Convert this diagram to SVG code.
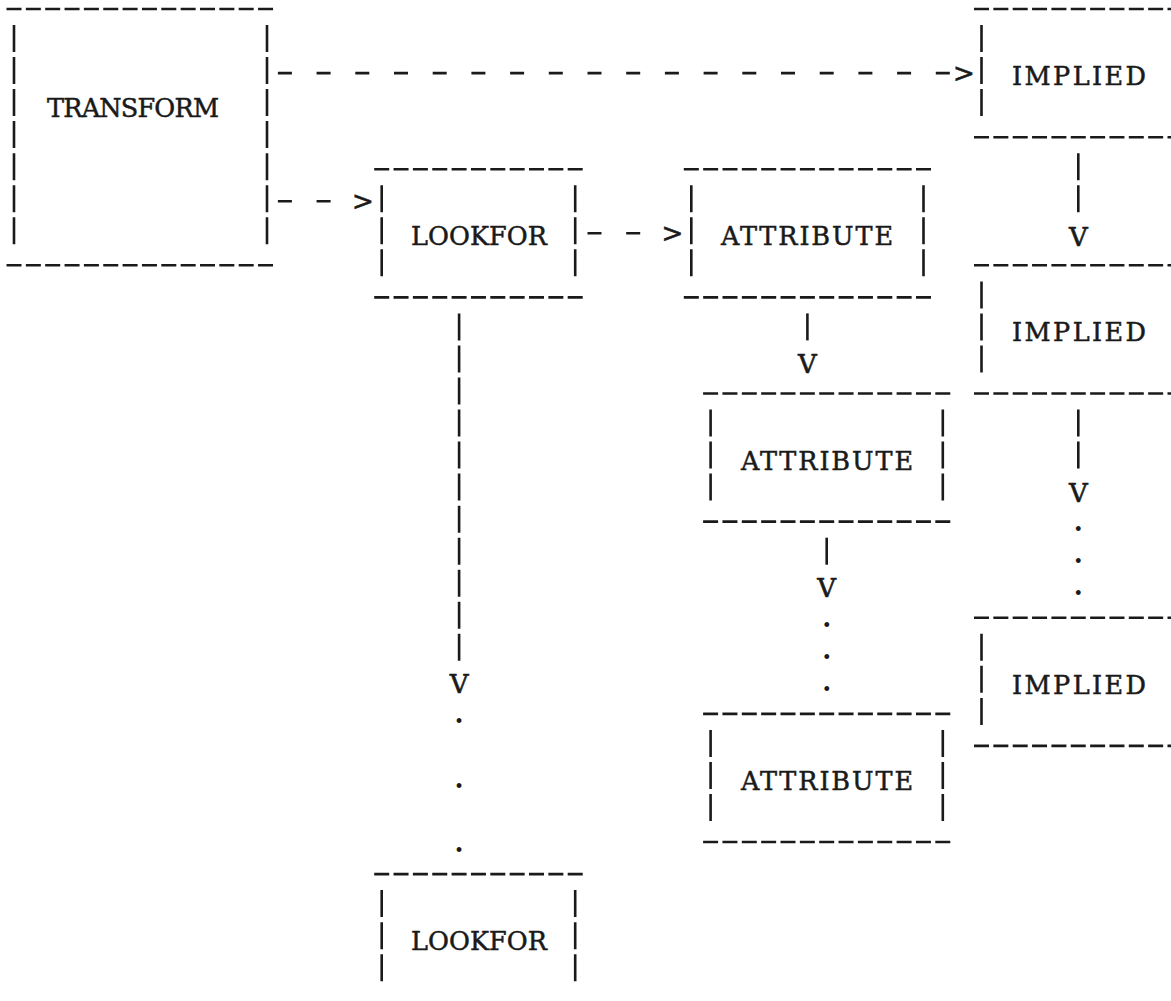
<svg xmlns="http://www.w3.org/2000/svg" width="1171" height="1001" viewBox="0 0 1171 1001">
<defs>
<style>
.bg{fill:#ffffff}
.h{stroke:#1a1a1a;stroke-width:2.6;stroke-dasharray:15 4.35;fill:none}
.v{stroke:#1a1a1a;stroke-width:2.6;stroke-dasharray:27 5.04;fill:none}
.a{stroke:#1a1a1a;stroke-width:2.6;stroke-dasharray:14 24.7;fill:none}
.t{font-family:"DejaVu Serif","Liberation Serif",serif;font-size:25.5px;fill:#1a1a1a;stroke:#1a1a1a;stroke-width:0.5}
.c{font-family:"DejaVu Serif","Liberation Serif",serif;font-size:26px;fill:#1a1a1a;stroke:#1a1a1a;stroke-width:0.6;text-anchor:middle}
.d{font-family:"DejaVu Serif","Liberation Serif",serif;font-size:26px;font-weight:bold;fill:#1a1a1a;text-anchor:middle}
</style>
</defs>
<rect class="bg" x="0" y="0" width="1171" height="1001"/>

<g id="transform">
<line class="h" x1="6.5" y1="9" x2="273.1" y2="9"/>
<line class="h" x1="6.5" y1="265.3" x2="273.1" y2="265.3"/>
<line class="v" x1="14" y1="25" x2="14" y2="244.3"/>
<line class="v" x1="267" y1="25" x2="267" y2="244.3"/>
<text class="t" x="47" y="117" textLength="172" lengthAdjust="spacing">TRANSFORM</text>
</g>

<g id="implied1">
<line class="h" x1="974" y1="9" x2="1180" y2="9"/>
<line class="h" x1="974" y1="137.2" x2="1180" y2="137.2"/>
<line class="v" x1="981.5" y1="25" x2="981.5" y2="116.1"/>
<text class="t" x="1012" y="85" textLength="134" lengthAdjust="spacing">IMPLIED</text>
</g>

<g id="implied2">
<line class="h" x1="974" y1="265.3" x2="1180" y2="265.3"/>
<line class="h" x1="974" y1="393.5" x2="1180" y2="393.5"/>
<line class="v" x1="981.5" y1="281.4" x2="981.5" y2="372.4"/>
<text class="t" x="1012" y="341.3" textLength="134" lengthAdjust="spacing">IMPLIED</text>
</g>

<g id="implied3">
<line class="h" x1="974" y1="617.8" x2="1180" y2="617.8"/>
<line class="h" x1="974" y1="745.9" x2="1180" y2="745.9"/>
<line class="v" x1="981.5" y1="633.8" x2="981.5" y2="724.9"/>
<text class="t" x="1012" y="693.7" textLength="134" lengthAdjust="spacing">IMPLIED</text>
</g>

<g id="lookfor1">
<line class="h" x1="374.2" y1="169.2" x2="582.7" y2="169.2"/>
<line class="h" x1="374.2" y1="297.4" x2="582.7" y2="297.4"/>
<line class="v" x1="381.7" y1="185.2" x2="381.7" y2="276.3"/>
<line class="v" x1="575.2" y1="185.2" x2="575.2" y2="276.3"/>
<text class="t" x="411" y="245.2" textLength="136" lengthAdjust="spacing">LOOKFOR</text>
</g>

<g id="lookfor2">
<line class="h" x1="374.2" y1="874.1" x2="582.7" y2="874.1"/>
<line class="v" x1="381.7" y1="890.1" x2="381.7" y2="981.2"/>
<line class="v" x1="575.2" y1="890.1" x2="575.2" y2="981.2"/>
<text class="t" x="411" y="950.1" textLength="136" lengthAdjust="spacing">LOOKFOR</text>
</g>

<g id="attribute1">
<line class="h" x1="683.8" y1="169.2" x2="931" y2="169.2"/>
<line class="h" x1="683.8" y1="297.4" x2="931" y2="297.4"/>
<line class="v" x1="691.3" y1="185.2" x2="691.3" y2="276.3"/>
<line class="v" x1="923.5" y1="185.2" x2="923.5" y2="276.3"/>
<text class="t" x="721" y="245.2" textLength="172" lengthAdjust="spacing">ATTRIBUTE</text>
</g>

<g id="attribute2">
<line class="h" x1="703.1" y1="393.5" x2="950.3" y2="393.5"/>
<line class="h" x1="703.1" y1="521.6" x2="950.3" y2="521.6"/>
<line class="v" x1="710.6" y1="409.5" x2="710.6" y2="500.6"/>
<line class="v" x1="942.8" y1="409.5" x2="942.8" y2="500.6"/>
<text class="t" x="741" y="469.5" textLength="172" lengthAdjust="spacing">ATTRIBUTE</text>
</g>

<g id="attribute3">
<line class="h" x1="703.1" y1="713.9" x2="950.3" y2="713.9"/>
<line class="h" x1="703.1" y1="842" x2="950.3" y2="842"/>
<line class="v" x1="710.6" y1="729.9" x2="710.6" y2="821"/>
<line class="v" x1="942.8" y1="729.9" x2="942.8" y2="821"/>
<text class="t" x="741" y="789.9" textLength="172" lengthAdjust="spacing">ATTRIBUTE</text>
</g>

<g id="connectors">
<!-- TRANSFORM to IMPLIED -->
<line class="a" x1="277.9" y1="73.1" x2="949.8" y2="73.1"/>
<text class="c" x="964" y="82">&gt;</text>
<!-- TRANSFORM to LOOKFOR -->
<line class="a" x1="277.9" y1="201.2" x2="330.6" y2="201.2"/>
<text class="c" x="363" y="210">&gt;</text>
<!-- LOOKFOR to ATTRIBUTE -->
<line class="a" x1="587.5" y1="233.3" x2="640.2" y2="233.3"/>
<text class="c" x="672.5" y="242">&gt;</text>
<!-- IMPLIED chain -->
<line class="v" x1="1078.3" y1="153.2" x2="1078.3" y2="212.2"/>
<text class="c" x="1078.3" y="245.5">V</text>
<line class="v" x1="1078.3" y1="409.5" x2="1078.3" y2="468.6"/>
<text class="c" x="1078.3" y="502">V</text>
<text class="d" x="1078.3" y="531.1">.</text>
<text class="d" x="1078.3" y="563.2">.</text>
<text class="d" x="1078.3" y="595.2">.</text>
<!-- LOOKFOR chain -->
<line class="v" x1="459.1" y1="313.4" x2="459.1" y2="660.8"/>
<text class="c" x="459.1" y="693">V</text>
<text class="d" x="459.1" y="723.4">.</text>
<text class="d" x="459.1" y="787.5">.</text>
<text class="d" x="459.1" y="851.5">.</text>
<!-- ATTRIBUTE chain -->
<line class="v" x1="807.4" y1="313.4" x2="807.4" y2="340.4"/>
<text class="c" x="807.4" y="372.5">V</text>
<line class="v" x1="826.7" y1="537.7" x2="826.7" y2="564.7"/>
<text class="c" x="826.7" y="597">V</text>
<text class="d" x="826.7" y="627.3">.</text>
<text class="d" x="826.7" y="659.3">.</text>
<text class="d" x="826.7" y="691.3">.</text>
</g>
</svg>
